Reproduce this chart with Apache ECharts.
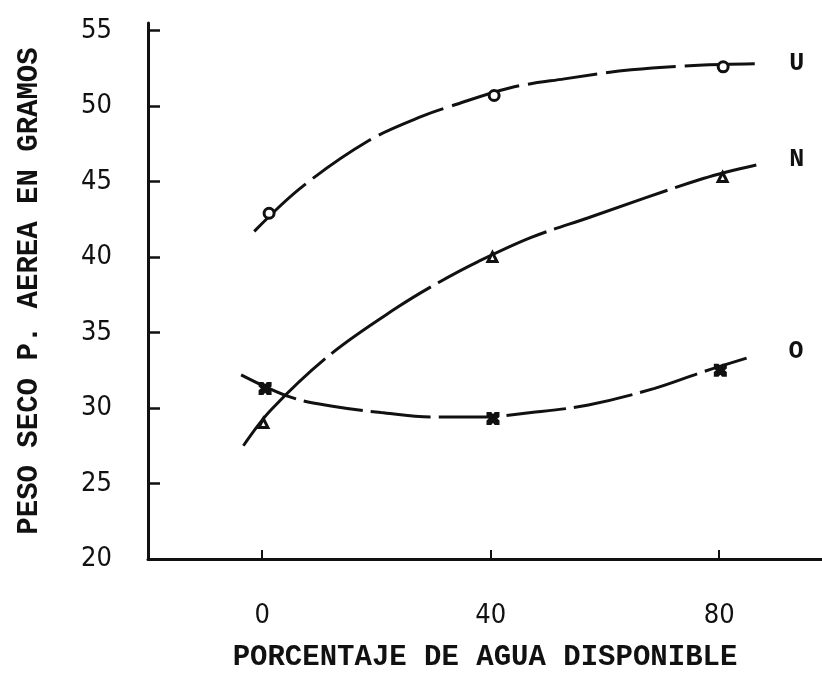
<!DOCTYPE html>
<html>
<head>
<meta charset="utf-8">
<script src="https://cdn.jsdelivr.net/npm/echarts@6/dist/echarts.min.js"></script>
<style>
  html, body { margin: 0; padding: 0; background: #fff; }
  #chart { width: 822px; height: 685px; }
</style>
</head>
<body>
<div id="chart"></div>
<script>
// ticks
const xTicks = [0, 40, 80];
const yTicks = [20, 25, 30, 35, 40, 45, 50, 55];

// measured points (x = % agua, y = peso seco)
const uPoints = [[1.2, 42.9], [40.6, 50.7], [80.7, 52.6]];
const nPoints = [[0.2, 29.0], [40.3, 40.0], [80.6, 45.3]];
const oPoints = [[0.5, 31.3], [40.4, 29.3], [80.2, 32.5]];

// hand drawn curves
const uCurve = [[-1.4, 41.7], [6.8, 44.6], [18.6, 47.7], [27.8, 49.3], [33.1, 50.0], [43.3, 51.2], [52.9, 51.8], [64.6, 52.4], [76.4, 52.7], [86.5, 52.8]];
const nCurve = [[-3.3, 27.5], [1.6, 29.9], [12.1, 33.6], [23.8, 36.7], [30.8, 38.3], [37.8, 39.7], [47.1, 41.3], [57.1, 42.6], [77.2, 45.2], [86.5, 46.1]];
const oCurve = [[-3.7, 32.2], [5.1, 30.7], [12.6, 30.1], [20.8, 29.7], [29.6, 29.4], [37.8, 29.4], [47.1, 29.7], [57.1, 30.2], [68.7, 31.3], [77.2, 32.4], [84.8, 33.3]];

const ink = '#111';
const monoFont = '"Liberation Mono", "DejaVu Sans Mono", monospace';
const numFont = '"DejaVu Sans Condensed", "DejaVu Sans", sans-serif';

function curve(name, data, dash, labelOffset, labelDist) {
  return {
    name: name,
    type: 'line',
    data: data,
    smooth: 0.35,
    showSymbol: false,
    silent: true,
    lineStyle: { color: ink, width: 3, type: dash },
    endLabel: {
      show: true,
      formatter: name,
      distance: labelDist,
      offset: labelOffset,
      color: ink,
      fontFamily: monoFont,
      fontWeight: 'bold',
      fontSize: 25
    },
    z: 2
  };
}

function marks(data, symbol, size, fill) {
  return {
    type: 'scatter',
    data: data,
    symbol: symbol,
    symbolSize: size,
    itemStyle: { color: fill, borderColor: ink, borderWidth: 3, opacity: 1 },
    z: 3
  };
}

const chart = echarts.init(document.getElementById('chart'), null, { renderer: 'canvas' });
chart.setOption({
  backgroundColor: '#fff',
  animation: false,
  grid: { left: 148, right: 0, top: 23, bottom: 126 },
  xAxis: {
    type: 'value',
    min: -20,
    max: 98,
    name: 'PORCENTAJE DE AGUA DISPONIBLE',
    nameLocation: 'middle',
    nameGap: 84,
    nameTextStyle: { color: ink, fontFamily: monoFont, fontWeight: 'bold', fontSize: 29 },
    splitLine: { show: false },
    axisLine: { onZero: false, lineStyle: { color: ink, width: 3 } },
    axisTick: { show: true, inside: true, length: 9, lineStyle: { color: ink, width: 2 }, customValues: xTicks },
    axisLabel: { color: ink, fontFamily: numFont, fontSize: 27, margin: 43, customValues: xTicks }
  },
  yAxis: {
    type: 'value',
    min: 20,
    max: 55.5,
    name: 'PESO SECO P. AEREA EN GRAMOS',
    nameLocation: 'middle',
    nameGap: 104,
    nameTextStyle: { color: ink, fontFamily: monoFont, fontWeight: 'bold', fontSize: 29 },
    splitLine: { show: false },
    axisLine: { show: true, onZero: false, lineStyle: { color: ink, width: 3 } },
    axisTick: { show: true, inside: true, length: 12, lineStyle: { color: ink, width: 2.5 }, customValues: yTicks },
    axisLabel: { color: ink, fontFamily: numFont, fontSize: 27, margin: 36, customValues: yTicks }
  },
  series: [
    curve('U', uCurve, [70, 9], [0, 0], 33),
    curve('N', nCurve, [120, 8], [0, -5], 33),
    curve('O', oCurve, [60, 8], [0, -6], 42),
    marks(uPoints, 'circle', 10, '#fff'),
    marks(nPoints, 'triangle', 9, '#fff'),
    marks(oPoints, 'path://M0,0L2.5,0L5,3L7.5,0L10,0L10,2.5L7,5L10,7.5L10,10L7.5,10L5,7L2.5,10L0,10L0,7.5L3,5L0,2.5Z', 10, ink)
  ]
});
</script>
</body>
</html>
